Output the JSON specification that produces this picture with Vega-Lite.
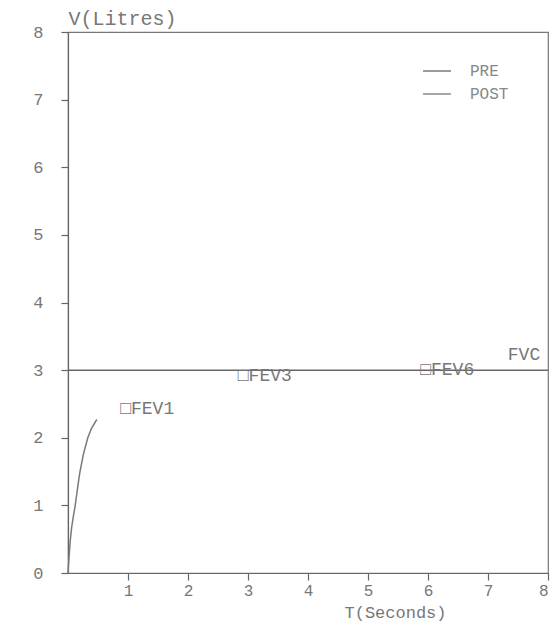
{
  "$schema": "https://vega.github.io/schema/vega-lite/v6.json",
  "width": 480,
  "height": 541,
  "autosize": {"type": "none"},
  "padding": {"left": 68, "top": 32, "right": 2, "bottom": 55},
  "background": "white",
  "config": {
    "view": {"stroke": "#777", "strokeWidth": 1.2},
    "axis": {
      "domainColor": "#666", "tickColor": "#666", "labelColor": "#777", "titleColor": "#777",
      "labelFont": "Liberation Mono", "titleFont": "Liberation Mono",
      "titleFontWeight": "normal", "grid": false, "domainWidth": 1.2, "tickWidth": 1.2
    }
  },
  "datasets": {
    "curve": [
      {"t": 0.0, "v": 0.0, "series": "PRE"},
      {"t": 0.04, "v": 0.5, "series": "PRE"},
      {"t": 0.12, "v": 1.0, "series": "PRE"},
      {"t": 0.2, "v": 1.5, "series": "PRE"},
      {"t": 0.33, "v": 2.0, "series": "PRE"},
      {"t": 0.48, "v": 2.27, "series": "PRE"}
    ],
    "fvc": [
      {"t": 0, "v": 3.0},
      {"t": 8, "v": 3.0}
    ],
    "labels": [
      {"t": 0.87, "v": 2.43, "label": "□FEV1"},
      {"t": 2.83, "v": 2.92, "label": "□FEV3"},
      {"t": 5.87, "v": 3.0, "label": "□FEV6"},
      {"t": 7.33, "v": 3.22, "label": "FVC"}
    ]
  },
  "layer": [
    {
      "data": {"name": "fvc"},
      "mark": {"type": "line", "color": "#666", "strokeWidth": 1.5},
      "encoding": {
        "x": {"field": "t", "type": "quantitative", "scale": {"domain": [0, 8], "nice": false},
          "axis": {"values": [1, 2, 3, 4, 5, 6, 7, 8], "format": "d", "tickSize": 7, "labelPadding": 2, "labelFontSize": 16,
            "title": "T(Seconds)", "titleFontSize": 17, "titleX": 327, "titleY": 39, "titleAlign": "center", "titleBaseline": "middle"}},
        "y": {"field": "v", "type": "quantitative", "scale": {"domain": [0, 8], "nice": false},
          "axis": {"values": [0, 1, 2, 3, 4, 5, 6, 7, 8], "format": "d", "tickSize": 7, "labelPadding": 18, "labelFontSize": 17,
            "title": "V(Litres)", "titleFontSize": 20, "titleAngle": 0, "titleX": 0, "titleY": -8, "titleAlign": "left", "titleBaseline": "alphabetic"}}
      }
    },
    {
      "data": {"name": "curve"},
      "mark": {"type": "line", "strokeWidth": 1.5, "interpolate": "monotone"},
      "encoding": {
        "x": {"field": "t", "type": "quantitative"},
        "y": {"field": "v", "type": "quantitative"},
        "color": {"field": "series", "type": "nominal",
          "scale": {"domain": ["PRE", "POST"], "range": ["#7a7a7a", "#8a8a8a"]},
          "legend": {"orient": "none", "legendX": 354, "legendY": 24, "title": null,
            "symbolType": "stroke", "symbolSize": 780, "symbolStrokeWidth": 1.5,
            "labelFont": "Liberation Mono", "labelFontSize": 16, "labelColor": "#888",
            "labelOffset": 18, "rowPadding": 0}}
      }
    },
    {
      "data": {"name": "labels"},
      "mark": {"type": "text", "align": "left", "baseline": "middle", "fontSize": 18, "color": "#777", "font": "Liberation Mono"},
      "encoding": {
        "x": {"field": "t", "type": "quantitative"},
        "y": {"field": "v", "type": "quantitative"},
        "text": {"field": "label"}
      }
    }
  ]
}
